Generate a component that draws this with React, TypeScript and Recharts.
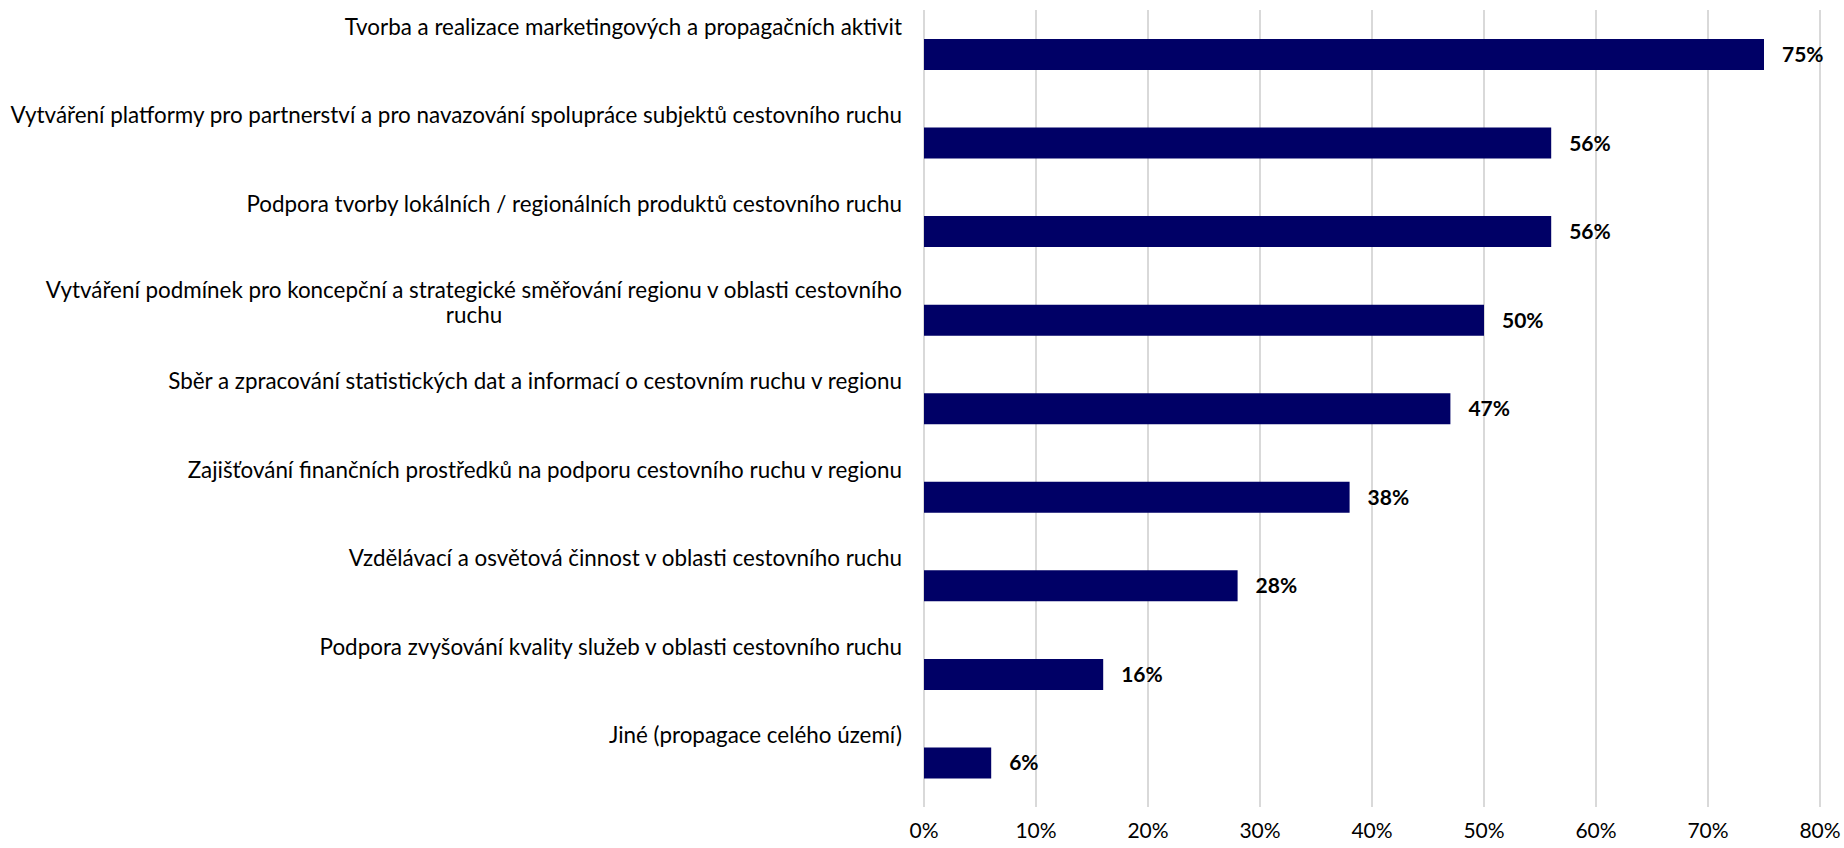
import React from 'react';
import { BarChart, Bar, XAxis, YAxis, CartesianGrid, LabelList } from 'recharts';

// categories top to bottom, each label split into its printed lines
const categories: string[][] = [
  ['Tvorba a realizace marketingových a propagačních aktivit'],
  ['Vytváření platformy pro partnerství a pro navazování spolupráce subjektů cestovního ruchu'],
  ['Podpora tvorby lokálních / regionálních produktů cestovního ruchu'],
  ['Vytváření podmínek pro koncepční a strategické směřování regionu v oblasti cestovního', 'ruchu'],
  ['Sběr a zpracování statistických dat a informací o cestovním ruchu v regionu'],
  ['Zajišťování finančních prostředků na podporu cestovního ruchu v regionu'],
  ['Vzdělávací a osvětová činnost v oblasti cestovního ruchu'],
  ['Podpora zvyšování kvality služeb v oblasti cestovního ruchu'],
  ['Jiné (propagace celého území)'],
];
const shares = [75, 56, 56, 50, 47, 38, 28, 16, 6];
const xTicks = [0, 10, 20, 30, 40, 50, 60, 70, 80];

const data = categories.map((lines, i) => ({ name: String(i), value: shares[i] }));

const FONT = 'Lato, "Open Sans", sans-serif';
const LABEL_SIZE = 22.4;

const CategoryTick = (props: any) => {
  const { x, y, payload } = props;
  const lines = categories[Number(payload.value)];
  const right = x - 22;
  if (lines.length === 1) {
    return (
      <text x={right} y={y - 28} textAnchor="end" dominantBaseline="central"
        fontFamily={FONT} fontSize={LABEL_SIZE} fill="#000">
        {lines[0]}
      </text>
    );
  }
  return (
    <g>
      <text x={right} y={y - 30} textAnchor="end" dominantBaseline="central"
        fontFamily={FONT} fontSize={LABEL_SIZE} fill="#000">
        {lines[0]}
      </text>
      <text x={right - 428} y={y - 5} textAnchor="middle" dominantBaseline="central"
        fontFamily={FONT} fontSize={LABEL_SIZE} fill="#000">
        {lines[1]}
      </text>
    </g>
  );
};

export default function App() {
  return (
    <div style={{ position: 'absolute', left: 0, top: 0, width: 1844, height: 848, background: '#fff' }}>
      <BarChart
        width={1844}
        height={848}
        data={data}
        layout="vertical"
        margin={{ top: 10, right: 24, bottom: 0, left: 0 }}
        barSize={31}
      >
        <CartesianGrid horizontal={false} stroke="#d9d9d9" strokeWidth={2} />
        <XAxis
          type="number"
          domain={[0, 80]}
          ticks={xTicks}
          interval={0}
          height={41}
          axisLine={false}
          tickLine={false}
          tickFormatter={(v) => `${v}%`}
          tick={{ fill: '#000', fontSize: 21, fontFamily: FONT }}
          tickMargin={10}
        />
        <YAxis
          type="category"
          dataKey="name"
          width={924}
          axisLine={false}
          tickLine={false}
          tickSize={0}
          tickMargin={0}
          interval={0}
          tick={<CategoryTick />}
        />
        <Bar dataKey="value" fill="#000066" isAnimationActive={false}>
          <LabelList
            dataKey="value"
            position="right"
            offset={18}
            formatter={(v: any) => `${v}%`}
            style={{ fill: '#000', fontSize: 21, fontWeight: 700, fontFamily: FONT }}
          />
        </Bar>
      </BarChart>
    </div>
  );
}
